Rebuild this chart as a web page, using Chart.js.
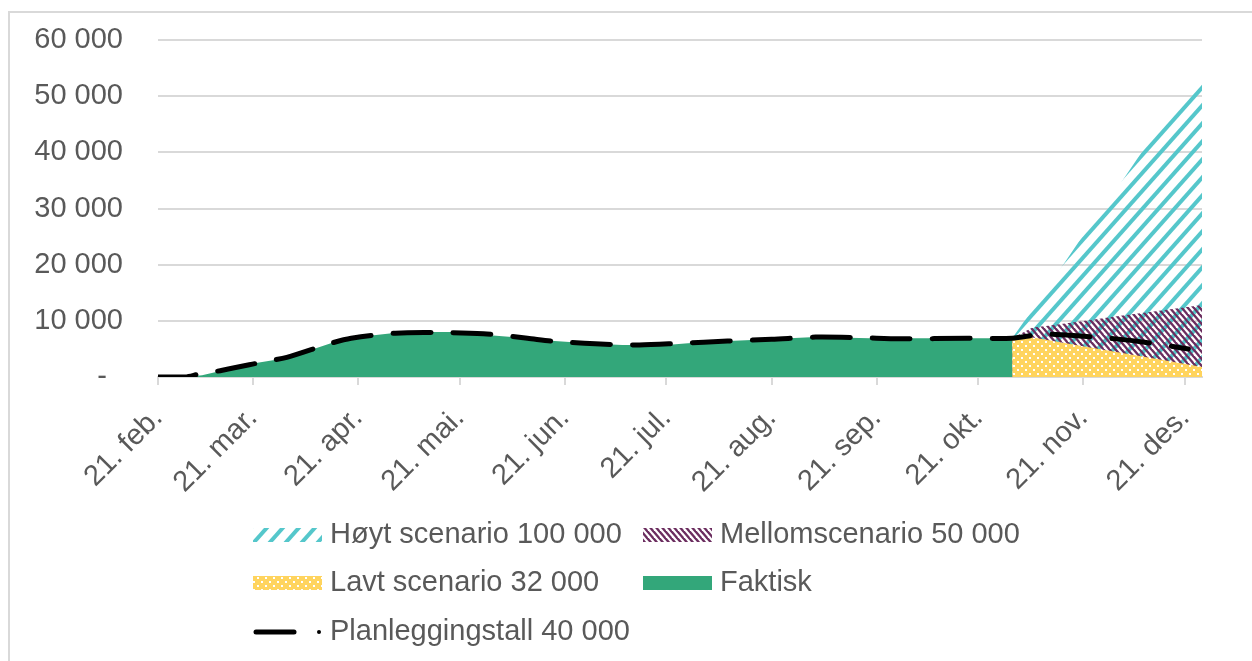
<!DOCTYPE html>
<html>
<head>
<meta charset="utf-8">
<script src="https://cdn.jsdelivr.net/npm/chart.js@4.4.1/dist/chart.umd.min.js"></script>
<style>
  html, body { margin: 0; padding: 0; background: #fff; overflow: hidden; }
  #frame { position: absolute; left: 8px; top: 11px; width: 1300px; height: 700px;
           border-left: 2px solid #d9d9d9; border-top: 2px solid #d9d9d9; }
  #wrap { position: absolute; left: 0; top: 0; width: 1252px; height: 661px; }
</style>
</head>
<body>
<div id="frame"></div>
<div id="wrap"><canvas id="chart" width="1252" height="661"></canvas></div>
<script>
// x values are days after 21 February
const tickDays = [0, 28, 59, 89, 120, 150, 181, 212, 242, 273, 303];
const tickLabels = ["21. feb.", "21. mar.", "21. apr.", "21. mai.", "21. jun.", "21. jul.",
  "21. aug.", "21. sep.", "21. okt.", "21. nov.", "21. des."];

const faktiskDays = [0, 8, 13, 28, 38, 51, 57, 69, 77, 87, 97, 109, 117, 129, 137, 150, 160, 180, 194, 210, 239, 252];
const faktisk = [0, 0, 300, 2400, 3400, 6000, 7000, 7800, 8000, 8000, 7500, 6900, 6400, 5900, 5700, 5700, 6200, 6700, 7100, 6900, 6900, 6900];

const planDays = [0, 8, 12, 19, 32, 38, 51, 57, 70, 83, 96, 109, 116, 129, 142, 154, 168, 181, 194, 207, 219, 239, 252, 261, 272, 284, 291, 304];
const plan = [0, 0, 500, 1200, 2800, 3500, 6000, 6900, 7800, 7900, 7700, 6900, 6400, 5900, 5700, 6000, 6400, 6700, 7100, 7000, 6800, 6900, 6900, 7600, 7300, 6700, 6200, 5000];

const scenarioDays = [252, 258, 262, 272, 284, 296, 308];
const hoyt = [6900, 12000, 15500, 24400, 34500, 45200, 53000];
const mellom = [6900, 8800, 9100, 9900, 10900, 11850, 12800];
const lavt = [6900, 7050, 6630, 5580, 4320, 3060, 1800];

const FONT = '"Liberation Sans", Arial, sans-serif';
const TEXT = '#595959';
const GRID = '#d9d9d9';

function pts(days, vals) {
  return days.map((d, i) => ({ x: d, y: vals[i] }));
}

// diagonal hatch tile; lines run past the tile edges so they join cleanly
function stripes(color, w, h, lw, up) {
  const c = document.createElement('canvas');
  c.width = w; c.height = h;
  const g = c.getContext('2d');
  g.strokeStyle = color;
  g.lineWidth = lw;
  for (let k = -2; k <= 2; k++) {
    g.beginPath();
    if (up) { g.moveTo(k * w - w, 2 * h); g.lineTo(k * w + 2 * w, -h); }
    else { g.moveTo(k * w - w, -h); g.lineTo(k * w + 2 * w, 2 * h); }
    g.stroke();
  }
  return g.createPattern(c, 'repeat');
}

function dots() {
  const c = document.createElement('canvas');
  c.width = 8; c.height = 8;
  const g = c.getContext('2d');
  g.fillStyle = '#ffd45e';
  g.fillRect(0, 0, 8, 8);
  g.fillStyle = '#ffffff';
  g.fillRect(1, 1, 2, 2);
  g.fillRect(5, 5, 2, 2);
  return g.createPattern(c, 'repeat');
}

const hoytFill = stripes('#55c7cb', 16, 18, 4, true);
const mellomFill = stripes('#6b2d5f', 6, 7, 2.4, false);
const lavtFill = dots();
const faktiskColor = '#33a77a';

const legendItems = [
  { label: 'Høyt scenario 100 000', fill: hoytFill, x: 253, y: 535 },
  { label: 'Mellomscenario 50 000', fill: mellomFill, x: 643, y: 535 },
  { label: 'Lavt scenario 32 000', fill: lavtFill, x: 253, y: 583 },
  { label: 'Faktisk', fill: faktiskColor, x: 643, y: 583 },
  { label: 'Planleggingstall 40 000', line: true, x: 253, y: 632 }
];

const legendPlugin = {
  id: 'fixedLegend',
  afterDraw(chart) {
    const ctx = chart.ctx;
    ctx.save();
    ctx.font = '29px ' + FONT;
    ctx.textBaseline = 'middle';
    ctx.textAlign = 'left';
    legendItems.forEach((it) => {
      if (it.line) {
        ctx.strokeStyle = '#000';
        ctx.lineWidth = 5;
        ctx.lineCap = 'round';
        ctx.beginPath();
        ctx.moveTo(it.x + 3, it.y);
        ctx.lineTo(it.x + 41, it.y);
        ctx.stroke();
        ctx.fillStyle = '#000';
        ctx.beginPath();
        ctx.arc(it.x + 66, it.y, 2, 0, Math.PI * 2);
        ctx.fill();
      } else {
        ctx.fillStyle = it.fill;
        ctx.fillRect(it.x, it.y - 7, 69, 14);
      }
      ctx.fillStyle = TEXT;
      ctx.fillText(it.label, it.x + 77, it.y);
    });
    ctx.restore();
  }
};

const none = 'rgba(0,0,0,0)';

new Chart(document.getElementById('chart'), {
  type: 'line',
  data: {
    datasets: [
      {
        label: 'Planleggingstall 40 000',
        data: pts(planDays, plan),
        borderColor: '#000',
        borderWidth: 5,
        borderDash: [38, 22],
        borderCapStyle: 'round',
        fill: false,
        tension: 0.3,
        pointRadius: 0
      },
      {
        label: 'Faktisk',
        data: pts(faktiskDays, faktisk),
        borderColor: none,
        borderWidth: 0,
        backgroundColor: faktiskColor,
        fill: 'origin',
        pointRadius: 0
      },
      {
        label: 'Lavt scenario 32 000',
        data: pts(scenarioDays, lavt),
        borderColor: none,
        borderWidth: 0,
        backgroundColor: lavtFill,
        fill: 'origin',
        pointRadius: 0
      },
      {
        label: 'Mellomscenario 50 000',
        data: pts(scenarioDays, mellom),
        borderColor: none,
        borderWidth: 0,
        backgroundColor: mellomFill,
        fill: 'origin',
        pointRadius: 0
      },
      {
        label: 'Høyt scenario 100 000',
        data: pts(scenarioDays, hoyt),
        borderColor: none,
        borderWidth: 0,
        backgroundColor: hoytFill,
        fill: 'origin',
        pointRadius: 0
      }
    ]
  },
  options: {
    responsive: false,
    animation: false,
    layout: { padding: { top: 40, right: 50, bottom: 0, left: 0 } },
    plugins: {
      legend: { display: false },
      tooltip: { enabled: false }
    },
    scales: {
      x: {
        type: 'linear',
        min: 0,
        max: 308,
        afterBuildTicks: (s) => { s.ticks = tickDays.map((v) => ({ value: v })); },
        afterFit: (s) => { s.height = 284; },
        ticks: {
          autoSkip: false,
          minRotation: 45,
          maxRotation: 45,
          padding: 16,
          color: TEXT,
          font: { size: 29, family: FONT },
          callback: (v) => tickLabels[tickDays.indexOf(v)]
        },
        grid: { drawOnChartArea: false, tickLength: 8, color: GRID, lineWidth: 2 },
        border: { display: true, color: GRID, width: 2 }
      },
      y: {
        min: 0,
        max: 60000,
        afterFit: (s) => { s.width = 158; s.paddingTop = 0; s.paddingBottom = 0; },
        ticks: {
          stepSize: 10000,
          padding: 35,
          color: TEXT,
          font: { size: 29, family: FONT },
          callback: (v) => v === 0 ? '-  ' : (v / 1000) + ' 000'
        },
        grid: { color: GRID, lineWidth: 2, drawTicks: false },
        border: { display: false }
      }
    }
  },
  plugins: [legendPlugin]
});
</script>
</body>
</html>
